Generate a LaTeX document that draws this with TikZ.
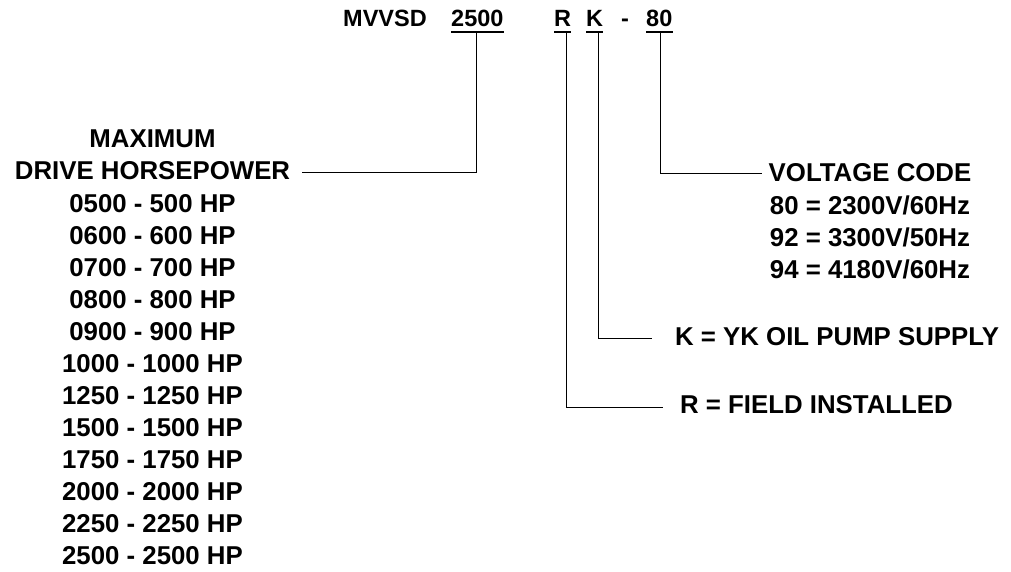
\documentclass[tikz,border=0pt]{standalone}
\usepackage{fontspec}
\setmainfont{Liberation Sans}
\begin{document}
\begin{tikzpicture}[x=1pt,y=-1pt,
  txt/.style={inner sep=0pt, font=\fontsize{25.8}{30}\selectfont\bfseries},
  ttl/.style={inner sep=0pt, font=\fontsize{23.5}{28}\selectfont\bfseries, anchor=base west},
  conn/.style={line width=0.9pt},
  uline/.style={line width=1.7pt}]
\useasboundingbox[fill=white] (0,0) rectangle (1011,572);
% title
\node[ttl] (mv) at (343,27) {MVVSD};
\node[ttl] (hp) at (451,27) {2500};
\node[ttl] (r) at (554,27) {R};
\node[ttl] (k) at (586,27) {K};
\node[ttl] (dash) at (621,27) {-};
\node[ttl] (v) at (646,27) {80};
\foreach \n in {hp,r,k,v}
  \draw[uline] ([yshift=-5pt]\n.base west) -- ([yshift=-5pt]\n.base east);
% left block
\node[txt, anchor=base] (max) at (152.5,148) {MAXIMUM};
\node[txt, anchor=base] (dhp) at (152.5,180) {DRIVE HORSEPOWER};
\foreach \t [count=\i from 0] in {0500 - 500 HP,0600 - 600 HP,0700 - 700 HP,0800 - 800 HP,0900 - 900 HP,1000 - 1000 HP,1250 - 1250 HP,1500 - 1500 HP,1750 - 1750 HP,2000 - 2000 HP,2250 - 2250 HP,2500 - 2500 HP}
  \node[txt, anchor=base] (hpl\i) at (152.5,{212+32*\i}) {\t};
% right block
\node[txt, anchor=base] (vc) at (870,182) {VOLTAGE CODE};
\node[txt, anchor=base] (v80) at (870,214) {80 = 2300V/60Hz};
\node[txt, anchor=base] (v92) at (870,246) {92 = 3300V/50Hz};
\node[txt, anchor=base] (v94) at (870,278) {94 = 4180V/60Hz};
\node[txt, anchor=base west] (kt) at (675,345) {K = YK OIL PUMP SUPPLY};
\node[txt, anchor=base west] (rt) at (680,413) {R = FIELD INSTALLED};
% connectors
\coordinate (hpc) at (476,33);
\coordinate (hpe) at (302,172);
\coordinate (vcc) at (660,33);
\coordinate (vce) at (762,173);
\coordinate (kc) at (598,33);
\coordinate (ke) at (652,338);
\coordinate (rc) at (566,33);
\coordinate (re) at (663,407);
\draw[conn] (hpc) |- (hpe);
\draw[conn] (vcc) |- (vce);
\draw[conn] (kc) |- (ke);
\draw[conn] (rc) |- (re);
\end{tikzpicture}
\end{document}
